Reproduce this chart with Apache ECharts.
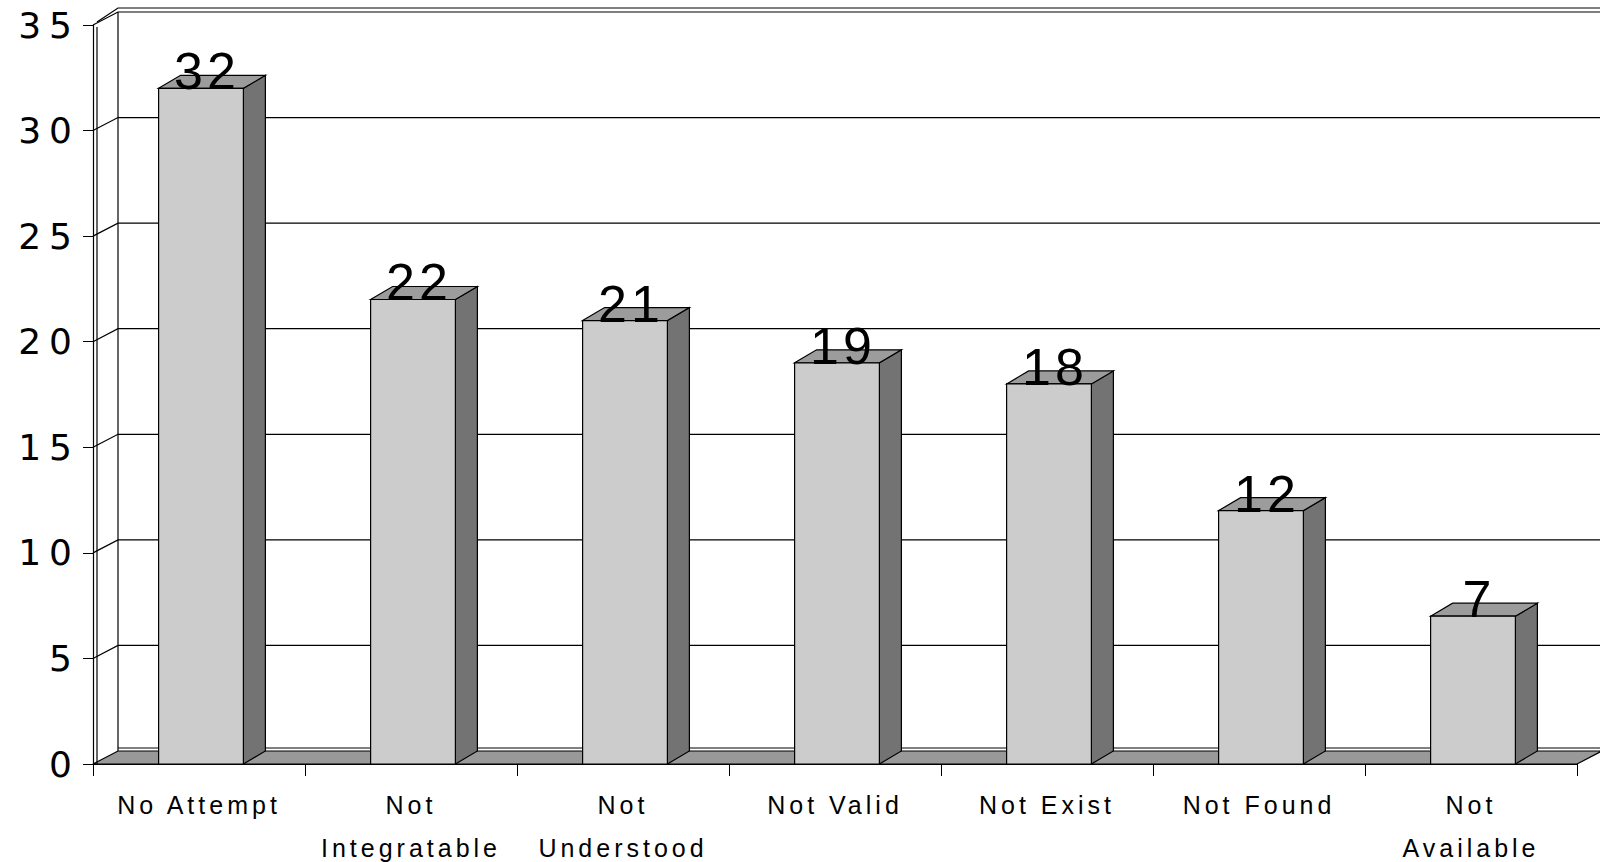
<!DOCTYPE html>
<html lang="en">
<head>
    <meta charset="UTF-8">
    <title>Reasons</title>
    <script src="https://cdn.jsdelivr.net/npm/echarts@6/dist/echarts.min.js"></script>
    <style>
        html, body {
            margin: 0;
            height: 100%;
            background: #fff;
        }
        #main text {
            letter-spacing: 4px;
        }
        #main text[style*="36px"] {
            letter-spacing: 8px;
        }
        #main text[style*="52px"] {
            letter-spacing: 4px;
        }
    </style>
</head>
<body>
<div id="main" style="width: 1600px;height: 862px"></div>
</body>
</html>
<script>
    // 数据
    var categories = ['No Attempt', 'Not\nIntegratable', 'Not\nUnderstood', 'Not Valid', 'Not Exist', 'Not Found', 'Not\nAvailable'];
    var counts = [32, 22, 21, 19, 18, 12, 7];
    var yTicks = [0, 5, 10, 15, 20, 25, 30, 35];

    // 3D 偏移
    var WALL_DX = 25, WALL_DY = 13;
    var BAR_DX = 22, BAR_DY = 13;

    var myChart = echarts.init(document.getElementById('main'), null, {renderer: 'svg'});

    // 地板和左墙
    function renderWalls(params, api) {
        var cs = params.coordSys;
        var y0 = api.coord([0, 0])[1];
        var yTop = api.coord([0, yTicks[yTicks.length - 1]])[1];
        var x0 = cs.x, x1 = cs.x + cs.width;
        var line = {stroke: '#000', lineWidth: 1.2, fill: null};
        return {
            type: 'group',
            children: [
                {
                    type: 'polygon',
                    shape: {points: [[x0, y0], [x1, y0], [x1 + WALL_DX, y0 - WALL_DY], [x0 + WALL_DX, y0 - WALL_DY]]},
                    style: {fill: '#999999', stroke: '#000', lineWidth: 1.2}
                },
                {type: 'line', shape: {x1: x0 + 4, y1: yTop + 2, x2: x0 + 4, y2: y0}, style: line},
                {type: 'line', shape: {x1: x0 + WALL_DX, y1: yTop - WALL_DY, x2: x0 + WALL_DX, y2: y0 - WALL_DY}, style: line},
                {type: 'polyline', shape: {points: [[x0 + 4, yTop - 3], [x0 + WALL_DX, yTop - WALL_DY - 4], [x1 + WALL_DX, yTop - WALL_DY - 4]]}, style: line},
                {type: 'line', shape: {x1: x0 + WALL_DX, y1: y0 - WALL_DY - 3, x2: x1 + WALL_DX, y2: y0 - WALL_DY - 3}, style: {stroke: '#000', lineWidth: 1}}
            ]
        };
    }

    // 背墙网格线
    function renderGrid(params, api) {
        var cs = params.coordSys;
        var y = api.coord([0, api.value(1)])[1];
        var x0 = cs.x, x1 = cs.x + cs.width;
        return {
            type: 'polyline',
            shape: {points: [[x0, y], [x0 + WALL_DX, y - WALL_DY], [x1 + WALL_DX, y - WALL_DY]]},
            style: {stroke: '#000', lineWidth: 1.2, fill: null}
        };
    }

    // 立体柱子
    function renderBar(params, api) {
        var idx = api.value(0);
        var val = api.value(1);
        var top = api.coord([idx, val]);
        var base = api.coord([idx, 0]);
        var band = api.size([1, 0])[0];
        var w = band * 0.4;
        var xl = top[0] - w / 2 + 2, xr = xl + w;
        var yt = top[1], yb = base[1];
        return {
            type: 'group',
            children: [
                {
                    type: 'polygon',
                    shape: {points: [[xr, yt], [xr + BAR_DX, yt - BAR_DY], [xr + BAR_DX, yb - BAR_DY], [xr, yb]]},
                    style: {fill: '#737373', stroke: '#000', lineWidth: 1.2}
                },
                {
                    type: 'polygon',
                    shape: {points: [[xl, yt], [xl + BAR_DX, yt - BAR_DY], [xr + BAR_DX, yt - BAR_DY], [xr, yt]]},
                    style: {fill: '#9c9c9c', stroke: '#000', lineWidth: 1.2}
                },
                {
                    type: 'rect',
                    shape: {x: xl, y: yt, width: w, height: yb - yt},
                    style: {fill: '#cccccc', stroke: '#000', lineWidth: 1.2}
                },
                {
                    type: 'text',
                    x: (xl + xr) / 2 + 6,
                    y: yt - 17,
                    style: {
                        text: String(val),
                        fill: '#000',
                        font: '52px "Liberation Sans"',
                        align: 'center',
                        verticalAlign: 'middle'
                    }
                }
            ]
        };
    }

    var option = {
        animation: false,
        grid: {left: 93, right: 23, top: 25, bottom: 98, outerBoundsMode: 'none'},
        xAxis: {
            type: 'category',
            data: categories,
            axisLine: {show: true, lineStyle: {color: '#000', width: 1.2}},
            axisTick: {show: true, interval: 0, length: 12, lineStyle: {color: '#000'}},
            axisLabel: {
                interval: 0,
                margin: 19,
                color: '#000',
                fontSize: 25,
                fontFamily: 'Liberation Sans',
                lineHeight: 43
            }
        },
        yAxis: {
            type: 'value',
            min: 0,
            max: 35,
            interval: 5,
            splitLine: {show: false},
            axisLine: {show: true, lineStyle: {color: '#000', width: 1.2}},
            axisTick: {show: true, length: 10, lineStyle: {color: '#000'}},
            axisLabel: {
                margin: 13,
                color: '#000',
                fontSize: 36,
                fontFamily: 'DejaVu Sans'
            }
        },
        series: [
            {
                type: 'custom',
                renderItem: renderWalls,
                data: [[0, 0]],
                silent: true
            },
            {
                type: 'custom',
                renderItem: renderGrid,
                data: yTicks.slice(1).map(function (v) {
                    return [0, v];
                }),
                silent: true
            },
            {
                type: 'custom',
                renderItem: renderBar,
                data: counts.map(function (v, i) {
                    return [i, v];
                })
            }
        ]
    };

    myChart.setOption(option);
</script>
